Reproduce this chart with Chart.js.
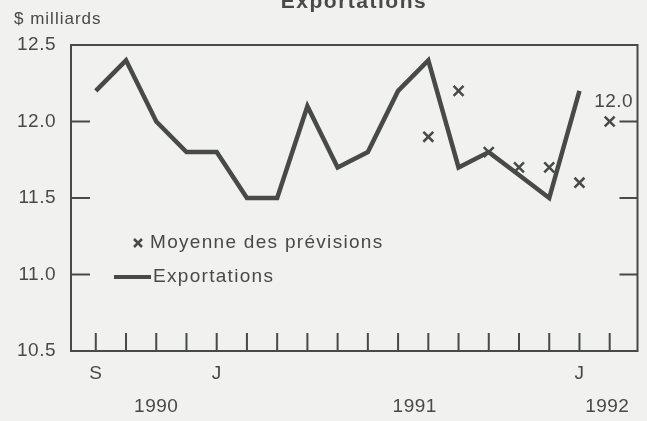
<!DOCTYPE html>
<html lang="fr">
<head>
<meta charset="utf-8">
<title>Exportations</title>
<script src="https://cdn.jsdelivr.net/npm/chart.js@4.4.0/dist/chart.umd.min.js"></script>
<style>
 html, body { margin: 0; padding: 0; background: #f1f1ef; }
 #wrap { width: 647px; height: 421px; position: relative; }
</style>
</head>
<body>
<div id="wrap"><canvas id="exportChart"></canvas></div>
<script>
// Données (mois de sept. 1990 à fév. 1992)
const months = ["S", "O", "N", "D", "J", "F", "M", "A", "M", "J", "J", "A", "S", "O", "N", "D", "J", "F"];
const monthLabels = ["S", "", "", "", "J", "", "", "", "", "", "", "", "", "", "", "", "J", ""];
const exportations = [12.2, 12.4, 12.0, 11.8, 11.8, 11.5, 11.5, 12.1, 11.7, 11.8, 12.2, 12.4, 11.7, 11.8, 11.65, 11.5, 12.2];
const previsions = [null, null, null, null, null, null, null, null, null, null, null, 11.9, 12.2, 11.8, 11.7, 11.7, 11.6, 12.0];
const yTicks = [10.5, 11.0, 11.5, 12.0, 12.5];
const years = ["1990", "1991", "1992"];
const yearPos = [2, 10.55, 16.92];

const ink = "#474a45";
const font = "'Liberation Sans', Arial, sans-serif";

Chart.defaults.font.family = font;
Chart.defaults.font.size = 19;
Chart.defaults.color = ink;

function drawFrame(chart) {
 const ctx = chart.ctx;
 const a = chart.chartArea;
 const x = chart.scales.x;
 const y = chart.scales.y;
 ctx.save();
 ctx.strokeStyle = ink;
 ctx.lineWidth = 2;
 ctx.beginPath();
 months.forEach((m, i) => {
 const px = x.getPixelForValue(i);
 ctx.moveTo(px, a.bottom);
 ctx.lineTo(px, a.bottom - 18);
 });
 yTicks.slice(1, -1).forEach((v) => {
 const py = y.getPixelForValue(v);
 ctx.moveTo(a.left, py);
 ctx.lineTo(a.left + 19, py);
 ctx.moveTo(a.right, py);
 ctx.lineTo(a.right - 18, py);
 });
 ctx.stroke();
 ctx.strokeRect(a.left, a.top, a.right - a.left, a.bottom - a.top);
 ctx.restore();
}

function drawTexts(chart) {
 const ctx = chart.ctx;
 const x = chart.scales.x;
 const y = chart.scales.y;
 ctx.save();
 ctx.fillStyle = ink;
 ctx.strokeStyle = ink;

 // titre (coupé en haut)
 ctx.font = "bold 21px " + font;
 ctx.letterSpacing = "1.5px";
 ctx.textAlign = "center";
 ctx.textBaseline = "alphabetic";
 ctx.fillText("Exportations", 354, 8);

 ctx.font = "17px " + font;
 ctx.letterSpacing = "1px";
 ctx.textAlign = "left";
 ctx.textBaseline = "middle";
 ctx.fillText("$ milliards", 14, 19);

 // années
 ctx.font = "19px " + font;
 ctx.letterSpacing = "0.5px";
 ctx.textAlign = "center";
 years.forEach((yr, i) => {
 ctx.fillText(yr, x.getPixelForValue(yearPos[i]), 407);
 });

 // dernière prévision
 const last = previsions.length - 1;
 ctx.fillText(previsions[last].toFixed(1), x.getPixelForValue(last) + 4, y.getPixelForValue(previsions[last]) - 20);

 // légende
 ctx.letterSpacing = "1.3px";
 ctx.textAlign = "left";
 ctx.lineWidth = 2.5;
 ctx.beginPath();
 ctx.moveTo(134, 239); ctx.lineTo(142, 247);
 ctx.moveTo(142, 239); ctx.lineTo(134, 247);
 ctx.stroke();
 ctx.fillText("Moyenne des prévisions", 150, 243);
 ctx.lineWidth = 4;
 ctx.beginPath();
 ctx.moveTo(114, 277); ctx.lineTo(151, 277);
 ctx.stroke();
 ctx.fillText("Exportations", 153, 277);
 ctx.restore();
}

const framePlugin = {
 id: "frame",
 beforeDraw(chart) {
 chart.ctx.letterSpacing = "0.5px";
 },
 afterDraw(chart) {
 drawFrame(chart);
 drawTexts(chart);
 }
};

new Chart(document.getElementById("exportChart"), {
 type: "line",
 data: {
 datasets: [
 {
 label: "Moyenne des prévisions",
 data: previsions.map((v, i) => ({ x: i, y: v })),
 showLine: false,
 pointStyle: "crossRot",
 pointRadius: 7,
 pointBorderWidth: 2.5,
 pointBorderColor: ink,
 pointBackgroundColor: ink
 },
 {
 label: "Exportations",
 data: exportations.map((v, i) => ({ x: i, y: v })),
 borderColor: ink,
 borderWidth: 4.5,
 borderJoinStyle: "miter",
 tension: 0,
 pointRadius: 0
 }
 ]
 },
 options: {
 responsive: true,
 maintainAspectRatio: false,
 animation: false,
 layout: { padding: { top: 45, right: 4, left: 0, bottom: 0 } },
 plugins: {
 legend: { display: false },
 title: { display: false },
 tooltip: { enabled: false }
 },
 scales: {
 x: {
 type: "linear",
 min: -0.82,
 max: 17.92,
 grid: { display: false, drawTicks: false },
 border: { display: false },
 afterBuildTicks: (s) => { s.ticks = months.map((m, i) => ({ value: i })); },
 afterFit: (s) => { s.height = 70; },
 ticks: {
 autoSkip: false,
 maxRotation: 0,
 padding: 11,
 callback: (v) => monthLabels[v]
 }
 },
 y: {
 min: 10.5,
 max: 12.5,
 grid: { display: false, drawTicks: false },
 border: { display: false },
 afterBuildTicks: (s) => { s.ticks = yTicks.map((v) => ({ value: v })); },
 afterFit: (s) => { s.width = 71; },
 ticks: {
 padding: 15,
 callback: (v) => v.toFixed(1)
 }
 }
 }
 },
 plugins: [framePlugin]
});
</script>
</body>
</html>
